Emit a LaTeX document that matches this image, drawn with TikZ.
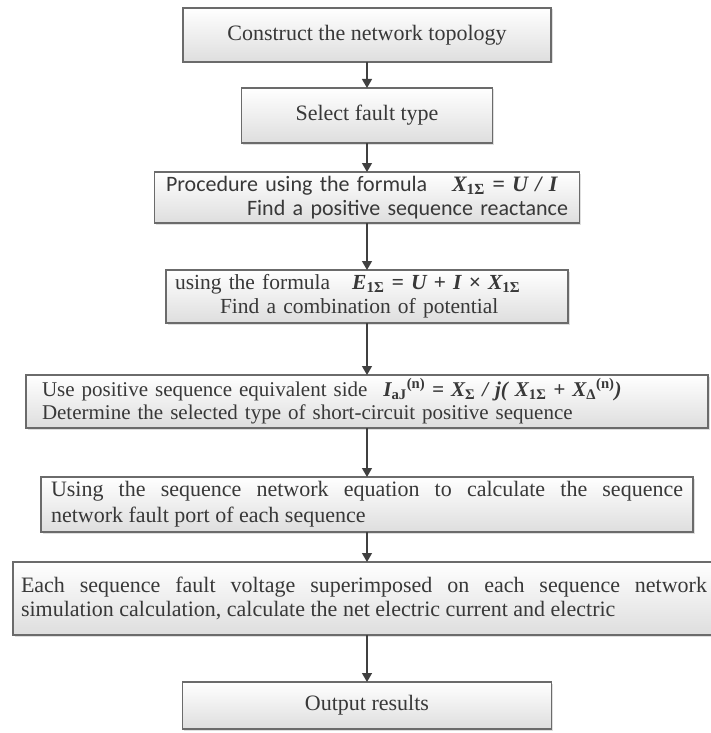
\documentclass[tikz,border=0pt]{standalone}
\usepackage{fontspec}
\setmainfont{Liberation Serif}
\newfontfamily\calfont{Carlito}
\newfontfamily\tnr{Liberation Serif}
\usetikzlibrary{arrows.meta,shadows}
\newcommand{\fml}[1]{{\tnr\bfseries\itshape #1}}
\newcommand{\sbs}[1]{\textsubscript{\upshape #1}}
\tikzset{
  box/.style={draw=black!58, line width=1.4pt, top color=white, bottom color=black!13,
    drop shadow={opacity=0.25, shadow xshift=1.5pt, shadow yshift=-1.5pt},
    rectangle, inner sep=0pt, outer sep=0pt, text=black!78,
    font=\fontsize{22}{25}\selectfont},
  flow/.style={draw=black!75, line width=1.3pt, -{Triangle[width=10pt,length=9pt]}}
}
\begin{document}
\begin{tikzpicture}[x=1pt,y=-1pt]
\fill[white] (0,0) rectangle (710,733);
\useasboundingbox (0,0) rectangle (710,733);

\node[box, minimum width=368pt, minimum height=54pt] (n1) at (367,35) {Construct the network topology};
\node[box, minimum width=251pt, minimum height=55pt] (n2) at (367,115.5) {Select fault type};
\node[box, minimum width=425pt, minimum height=51pt, text width=402pt, align=center,
  font=\calfont\fontsize{22}{24}\selectfont] (n3) at (367,197.5)
  {\makebox[402pt]{Procedure using the formula\hfill\fml{\makebox[116pt][s]{X\sbs{1Σ} = U / I}}}\\
   \makebox[402pt][r]{Find a positive sequence reactance}};
\node[box, minimum width=402pt, minimum height=53pt, text width=384pt, align=center,
  font=\fontsize{21.5}{24}\selectfont] (n4) at (367,296.5)
  {\makebox[384pt][l]{using the formula\hspace{22pt}\fml{\makebox[186pt][s]{E\sbs{1Σ} = U + I × X\sbs{1Σ}}}}\\
   \makebox[384pt][l]{\hspace*{45pt}Find a combination of potential}};
\node[box, minimum width=682pt, minimum height=53pt, text width=650pt, align=center,
  font=\fontsize{21}{23.5}\selectfont] (n5) at (367,401.5)
  {\makebox[650pt][l]{Use positive sequence equivalent side\hspace{16pt}\fml{\makebox[292pt][s]{I\sbs{aJ}\textsuperscript{\upshape(n)} = X\sbs{Σ} / j( X\sbs{1Σ} + X\sbs{Δ}\textsuperscript{\upshape(n)})}}}\\
   \makebox[650pt][l]{Determine the selected type of short-circuit positive sequence}};
\node[box, minimum width=652pt, minimum height=55pt, text width=632pt, align=justify,
  font=\fontsize{22}{26}\selectfont] (n6) at (367,504.5)
  {Using the sequence network equation to calculate the sequence\linebreak network fault port of each sequence};
\node[box, minimum width=702pt, minimum height=73pt, text width=686pt, align=justify,
  font=\fontsize{22}{24}\selectfont] (n7) at (364,598.5)
  {Each sequence fault voltage superimposed on each sequence network\linebreak simulation calculation, calculate the net electric current and electric};
\node[box, minimum width=369pt, minimum height=47pt] (n8) at (367,705.5) {Output results};

\foreach \a/\b in {n1/n2,n2/n3,n3/n4,n4/n5,n5/n6,n6/n7,n7/n8}
  \draw[flow] (n1.south |- \a.south) -- (n1.south |- \b.north);
\end{tikzpicture}
\end{document}
